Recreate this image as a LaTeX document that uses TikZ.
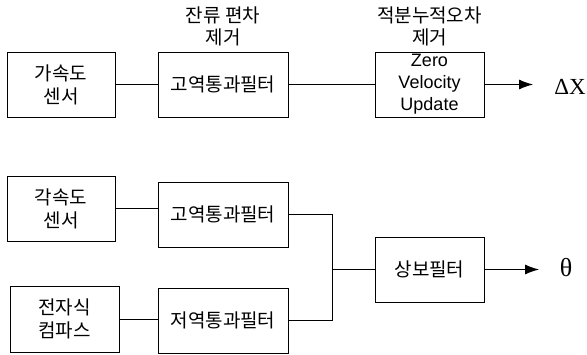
\documentclass[tikz,border=0pt]{standalone}
\usepackage{fontspec}
\setmainfont{Liberation Sans}
\newfontfamily\kr{Noto Sans CJK KR}
\newfontfamily\serifgr{Liberation Serif}
\usetikzlibrary{arrows.meta}
\begin{document}
\begin{tikzpicture}[x=1pt,y=-1pt,
  blk/.style={draw,line width=0.9pt,inner sep=0pt,align=center,font=\kr\fontsize{19}{23}\selectfont},
  lbl/.style={inner sep=0pt,align=center,font=\kr\fontsize{19}{22}\selectfont},
  ln/.style={line width=0.9pt},
  arr/.style={line width=0.9pt,-{Latex[length=14pt,width=10pt]}},
  sym/.style={inner sep=0pt,font=\serifgr\fontsize{23}{24}\selectfont}]
\useasboundingbox (0,0) rectangle (587,355);
% top row
\node[blk,minimum width=108pt,minimum height=65pt] (acc) at (61,84.5) {가속도\\센서};
\node[blk,minimum width=130pt,minimum height=65pt] (hpf1) at (223,84.5) {고역통과필터};
\node[blk,minimum width=109pt,minimum height=65pt,font=\fontsize{18}{22}\selectfont] (zvu) at (429.5,84.5) {Zero\\Velocity\\Update};
\node[sym] (dx) at (570,87) {ΔX};
\node[lbl] (l1) at (223,26) {잔류 편차\\제거};
\node[lbl] (l2) at (429.5,26) {적분누적오차\\제거};
\coordinate (dxe) at (533,84.5);
\draw[ln] (acc.east) -- (hpf1.west);
\draw[ln] (hpf1.east) -- (zvu.west);
\draw[arr] (zvu.east) -- (dxe);
% bottom
\node[blk,minimum width=108pt,minimum height=65pt] (gyro) at (61,208.5) {각속도\\센서};
\node[blk,minimum width=130pt,minimum height=65pt] (hpf2) at (223,214.5) {고역통과필터};
\node[blk,minimum width=109pt,minimum height=66pt] (comp) at (64.5,319) {전자식\\컴파스};
\node[blk,minimum width=130pt,minimum height=65pt] (lpf) at (223,320.5) {저역통과필터};
\node[blk,minimum width=109pt,minimum height=65pt] (cf) at (429.5,269.5) {상보필터};
\node[sym,font=\serifgr\fontsize{26}{26}\selectfont] (th) at (566,268) {θ};
\coordinate (the) at (539,269.5);
\coordinate (j) at (332,269.5);
\draw[ln] (gyro.east) -- (gyro.east -| hpf2.west);
\draw[ln] (comp.east) -- (comp.east -| lpf.west);
\draw[ln] (hpf2.east) -| (j);
\draw[ln] (lpf.east) -| (j);
\draw[ln] (j) -- (cf.west);
\draw[arr] (cf.east) -- (the);
\end{tikzpicture}
\end{document}
